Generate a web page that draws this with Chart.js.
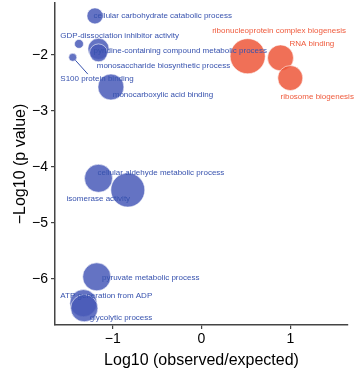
<!DOCTYPE html>
<html>
<head>
<meta charset="utf-8">
<script src="https://cdn.jsdelivr.net/npm/chart.js@4.4.1/dist/chart.umd.min.js"></script>
<style>
    body { margin: 0; background: #fff; }
    #chart { display: block; }
</style>
</head>
<body>
<canvas id="chart" width="354" height="374"></canvas>
<script>
const terms = [
    'cellular carbohydrate catabolic process',
    'GDP-dissociation inhibitor activity',
    'pyridine-containing compound metabolic process',
    'monosaccharide biosynthetic process',
    'S100 protein binding',
    'monocarboxylic acid binding',
    'ribonucleoprotein complex biogenesis',
    'RNA binding',
    'ribosome biogenesis',
    'cellular aldehyde metabolic process',
    'isomerase activity',
    'pyruvate metabolic process',
    'ATP generation from ADP',
    'glycolytic process'
];
const logRatio = [-1.20, -1.38, -1.16, -1.16, -1.45, -1.02, 0.52, 0.89, 1.00, -1.16, -0.83, -1.18, -1.33, -1.32];
const logP = [-1.30, -1.80, -1.89, -1.96, -2.04, -2.57, -2.02, -2.05, -2.41, -4.20, -4.41, -5.96, -6.43, -6.52];
const geneCount = [16, 5, 28, 20, 4, 42, 77, 42, 39, 49, 72, 49, 46, 46];
const direction = ['under', 'under', 'under', 'under', 'under', 'under', 'over', 'over', 'over',
    'under', 'under', 'under', 'under', 'under'];
const xTicks = [-1, 0, 1];
const yTicks = [-6, -5, -4, -3, -2];

// where ggrepel put the labels (left edge, middle of text), data units
const labelAt = [
    [-1.215, -1.30], [-1.59, -1.65], [-1.215, -1.93], [-1.18, -2.20], [-1.59, -2.43],
    [-1.00, -2.71], [0.12, -1.56], [0.99, -1.79], [0.89, -2.75], [-1.17, -4.10],
    [-1.52, -4.57], [-1.12, -5.98], [-1.59, -6.29], [-1.26, -6.70]
];

const fills = { under: 'rgba(73, 90, 184, 0.85)', over: 'rgba(237, 87, 58, 0.85)' };
const inks = { under: '#3752ae', over: '#ef5a3c' };

const points = terms.map((t, i) => ({
    x: logRatio[i],
    y: logP[i],
    r: 2 * Math.sqrt(geneCount[i])
}));

const labelPlugin = {
    id: 'termLabels',
    afterDatasetsDraw(chart) {
        const { ctx, scales: { x, y } } = chart;
        ctx.save();
        ctx.font = '8px "Liberation Sans", Arial, sans-serif';
        ctx.textAlign = 'left';
        ctx.textBaseline = 'middle';
        terms.forEach((t, i) => {
            ctx.fillStyle = inks[direction[i]];
            ctx.fillText(t, x.getPixelForValue(labelAt[i][0]), y.getPixelForValue(labelAt[i][1]));
        });
        // leader line for S100 protein binding
        const i = 4;
        const px = x.getPixelForValue(logRatio[i]);
        const py = y.getPixelForValue(logP[i]);
        const ex = x.getPixelForValue(-1.28);
        const ey = y.getPixelForValue(-2.34);
        const len = Math.hypot(ex - px, ey - py);
        const r = points[i].r;
        ctx.strokeStyle = inks.under;
        ctx.lineWidth = 1;
        ctx.beginPath();
        ctx.moveTo(px + (ex - px) / len * r, py + (ey - py) / len * r);
        ctx.lineTo(ex, ey);
        ctx.stroke();
        ctx.restore();
    }
};

const minus = v => String(v).replace('-', '\u2212');

// the scales ask for room for half a tick label at their ends; we fix the plot box ourselves
const noPad = axis => {
    axis.paddingTop = 0;
    axis.paddingBottom = 0;
    axis.paddingLeft = 0;
    axis.paddingRight = 0;
};

new Chart(document.getElementById('chart'), {
    type: 'bubble',
    data: {
        datasets: [{
            data: points,
            backgroundColor: direction.map(d => fills[d]),
            borderColor: 'rgba(255, 255, 255, 0.8)',
            borderWidth: 0.7,
        }]
    },
    options: {
        responsive: false,
        animation: false,
        layout: { autoPadding: false, padding: { top: 3, right: 6, left: 0, bottom: 0 } },
        plugins: {
            legend: { display: false },
            tooltip: { enabled: false }
        },
        scales: {
            x: {
                type: 'linear',
                min: -1.65,
                max: 1.65,
                afterBuildTicks: axis => { axis.ticks = xTicks.map(v => ({ value: v })); },
                afterFit: axis => { axis.height = 49; noPad(axis); },
                grid: { drawOnChartArea: false, drawTicks: true, tickLength: 4, color: '#444', lineWidth: 1.2 },
                border: { color: '#444', width: 1.5 },
                ticks: {
                    color: '#000',
                    padding: 2,
                    maxRotation: 0,
                    font: { family: '"Liberation Sans", Arial, sans-serif', size: 14 },
                    callback: minus
                },
                title: {
                    display: true,
                    text: 'Log10 (observed/expected)',
                    color: '#000',
                    padding: { top: 1 },
                    font: { family: '"Liberation Sans", Arial, sans-serif', size: 16 }
                }
            },
            y: {
                type: 'linear',
                min: -6.82,
                max: -1.07,
                afterBuildTicks: axis => { axis.ticks = yTicks.map(v => ({ value: v })); },
                afterFit: axis => { axis.width = 55; noPad(axis); },
                grid: { drawOnChartArea: false, drawTicks: true, tickLength: 4, color: '#444', lineWidth: 1.2 },
                border: { color: '#444', width: 1.5 },
                ticks: {
                    color: '#000',
                    padding: 3,
                    font: { family: '"Liberation Sans", Arial, sans-serif', size: 14 },
                    callback: minus
                },
                title: {
                    display: true,
                    text: '\u2212Log10 (p value)',
                    color: '#000',
                    padding: { top: 11, bottom: 0 },
                    font: { family: '"Liberation Sans", Arial, sans-serif', size: 16 }
                }
            }
        }
    },
    plugins: [labelPlugin]
});
</script>
</body>
</html>
